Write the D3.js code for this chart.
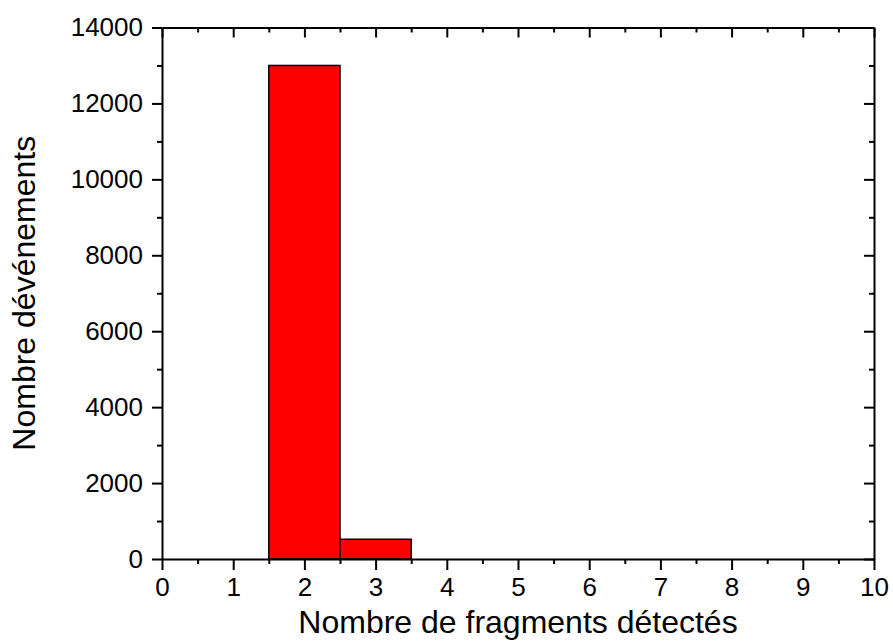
<!DOCTYPE html>
<html>
<head>
<meta charset="utf-8">
<script src="https://cdn.jsdelivr.net/npm/d3@7"></script>
<style>
  html, body { margin: 0; padding: 0; background: #fff; }
  svg { display: block; }
  .axis text { font-family: "Liberation Sans", Arial, sans-serif; font-size: 26px; fill: #000; }
  .axis line, .axis path { stroke: #000; stroke-width: 2; }
  .title { font-family: "Liberation Sans", Arial, sans-serif; font-size: 32px; fill: #000; }
</style>
</head>
<body>
<svg id="chart" width="893" height="644"></svg>
<script>
// Histogram bins: number of detected fragments per event
const binStart = [1.5, 2.5];
const binEnd = [2.5, 3.5];
const counts = [13000, 520];

const xTickValues = [0, 1, 2, 3, 4, 5, 6, 7, 8, 9, 10];
const xMinorValues = [0.5, 1.5, 2.5, 3.5, 4.5, 5.5, 6.5, 7.5, 8.5, 9.5];
const yTickValues = [0, 2000, 4000, 6000, 8000, 10000, 12000, 14000];
const yMinorValues = [1000, 3000, 5000, 7000, 9000, 11000, 13000];

const xTitle = "Nombre de fragments détectés";
const yTitle = "Nombre dévénements";

const plot = { left: 162, right: 874, top: 27.5, bottom: 559 };

const svg = d3.select("#chart");

const x = d3.scaleLinear().domain([0, 10]).range([plot.left, plot.right]);
const y = d3.scaleLinear().domain([0, 14000]).range([plot.bottom, plot.top]);

const bins = counts.map((c, i) => ({ x0: binStart[i], x1: binEnd[i], count: c }));

// Bars
svg.append("g")
  .selectAll("rect")
  .data(bins)
  .join("rect")
  .attr("x", d => x(d.x0))
  .attr("y", d => y(d.count))
  .attr("width", d => x(d.x1) - x(d.x0))
  .attr("height", d => y(0) - y(d.count))
  .attr("fill", "#ff0000")
  .attr("stroke", "#000")
  .attr("stroke-width", 1.5);

// Bottom axis (outward ticks, labelled)
svg.append("g").attr("class", "axis")
  .attr("transform", `translate(0,${plot.bottom})`)
  .call(d3.axisBottom(x).tickValues(xTickValues).tickFormat(d3.format("d"))
    .tickSizeInner(11).tickSizeOuter(0).tickPadding(8));
svg.append("g").attr("class", "axis")
  .attr("transform", `translate(0,${plot.bottom})`)
  .call(d3.axisBottom(x).tickValues(xMinorValues).tickFormat("")
    .tickSizeInner(5).tickSizeOuter(0))
  .call(g => g.select(".domain").remove());

// Top axis (inward ticks, no labels)
svg.append("g").attr("class", "axis")
  .attr("transform", `translate(0,${plot.top})`)
  .call(d3.axisTop(x).tickValues(xTickValues).tickFormat("")
    .tickSizeInner(-10).tickSizeOuter(0));
svg.append("g").attr("class", "axis")
  .attr("transform", `translate(0,${plot.top})`)
  .call(d3.axisTop(x).tickValues(xMinorValues).tickFormat("")
    .tickSizeInner(-5).tickSizeOuter(0))
  .call(g => g.select(".domain").remove());

// Left axis (outward ticks, labelled)
svg.append("g").attr("class", "axis")
  .attr("transform", `translate(${plot.left},0)`)
  .call(d3.axisLeft(y).tickValues(yTickValues).tickFormat(d3.format("d"))
    .tickSizeInner(10).tickSizeOuter(0).tickPadding(9));
svg.append("g").attr("class", "axis")
  .attr("transform", `translate(${plot.left},0)`)
  .call(d3.axisLeft(y).tickValues(yMinorValues).tickFormat("")
    .tickSizeInner(5).tickSizeOuter(0))
  .call(g => g.select(".domain").remove());

// Right axis (inward ticks, no labels)
svg.append("g").attr("class", "axis")
  .attr("transform", `translate(${plot.right},0)`)
  .call(d3.axisRight(y).tickValues(yTickValues).tickFormat("")
    .tickSizeInner(-10).tickSizeOuter(0));
svg.append("g").attr("class", "axis")
  .attr("transform", `translate(${plot.right},0)`)
  .call(d3.axisRight(y).tickValues(yMinorValues).tickFormat("")
    .tickSizeInner(-5).tickSizeOuter(0))
  .call(g => g.select(".domain").remove());

// Axis titles
svg.append("text").attr("class", "title")
  .attr("x", (plot.left + plot.right) / 2)
  .attr("y", 633)
  .attr("text-anchor", "middle")
  .text(xTitle);

svg.append("text").attr("class", "title")
  .attr("transform", `translate(35,${(plot.top + plot.bottom) / 2}) rotate(-90)`)
  .attr("text-anchor", "middle")
  .text(yTitle);
</script>
</body>
</html>
